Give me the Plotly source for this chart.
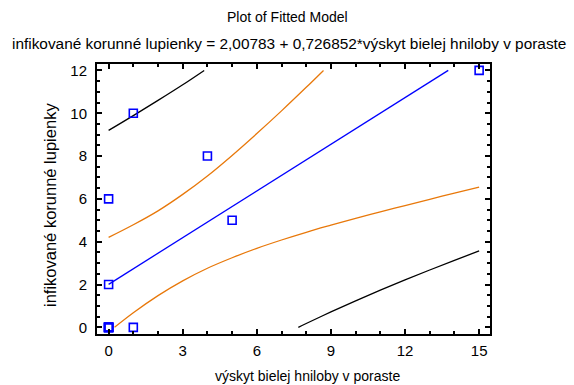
import plotly.graph_objects as go

# observed data points
obs_x = [0, 0, 0, 0, 0, 0, 0, 1, 1, 4, 5, 15]
obs_y = [0, 0, 0, 0, 0, 2, 6, 10, 0, 8, 5, 12]

# fitted line
fit_x = [0, 13.75]
fit_y = [2.01, 12.0]

# confidence limits (orange)
ci_up_x = [0, 1, 2, 3, 4, 5, 6, 7, 8, 8.7]
ci_up_y = [4.20, 4.79, 5.44, 6.21, 7.07, 8.03, 9.05, 10.11, 11.21, 12.0]
ci_lo_x = [0.24, 1, 2, 3, 4, 5, 6, 7, 8, 9, 10, 11, 12, 13, 14, 15]
ci_lo_y = [0.0, 0.68, 1.48, 2.17, 2.76, 3.25, 3.69, 4.08, 4.44, 4.77, 5.09, 5.39, 5.69, 5.98, 6.27, 6.55]

# prediction limits (black)
pi_up_x = [0, 1, 2, 3, 3.87]
pi_up_y = [9.20, 9.89, 10.60, 11.33, 12.0]
pi_lo_x = [7.68, 8, 9, 10, 11, 12, 13, 14, 15]
pi_lo_y = [0.0, 0.18, 0.72, 1.24, 1.74, 2.22, 2.68, 3.13, 3.57]

x_ticks = [0, 3, 6, 9, 12, 15]
y_ticks = [0, 2, 4, 6, 8, 10, 12]

FONT = "Liberation Sans, Arial, sans-serif"
ORANGE = "#E8780A"

W, H = 574, 385
ML, MR, MT, MB = 97, 84, 64, 51
PW, PH = W - ML - MR, H - MT - MB


def px_to_paper(xpx, ypx):
    return (xpx - ML) / PW, (H - MB - ypx) / PH


fig = go.Figure()
fig.add_trace(go.Scatter(x=pi_up_x, y=pi_up_y, mode="lines", line=dict(color="black", width=1.3, shape="spline"), hoverinfo="skip"))
fig.add_trace(go.Scatter(x=pi_lo_x, y=pi_lo_y, mode="lines", line=dict(color="black", width=1.3, shape="spline"), hoverinfo="skip"))
fig.add_trace(go.Scatter(x=ci_up_x, y=ci_up_y, mode="lines", line=dict(color=ORANGE, width=1.3, shape="spline"), hoverinfo="skip"))
fig.add_trace(go.Scatter(x=ci_lo_x, y=ci_lo_y, mode="lines", line=dict(color=ORANGE, width=1.3, shape="spline"), hoverinfo="skip"))
fig.add_trace(go.Scatter(x=fit_x, y=fit_y, mode="lines", line=dict(color="#0000FF", width=1.3), hoverinfo="skip"))
fig.add_trace(go.Scatter(x=obs_x, y=obs_y, mode="markers",
                         marker=dict(symbol="square-open", size=8, color="#0000FF", line=dict(width=1.6, color="#0000FF"))))

tx, ty = px_to_paper(287, 17)
sx, sy = px_to_paper(289, 43)
yx, yy = px_to_paper(50, 205)
xx, xy = px_to_paper(307, 376)

fig.update_layout(
    width=W, height=H,
    margin=dict(l=ML, r=MR, t=MT, b=MB),
    paper_bgcolor="white", plot_bgcolor="white",
    showlegend=False,
    font=dict(family=FONT, color="black", size=14),
    annotations=[
        dict(text="Plot of Fitted Model", x=tx, y=ty, xref="paper", yref="paper",
             showarrow=False, font=dict(size=14, family=FONT), xanchor="center", yanchor="middle"),
        dict(text="infikované korunné lupienky = 2,00783 + 0,726852*výskyt bielej hniloby v poraste",
             x=sx, y=sy, xref="paper", yref="paper", showarrow=False,
             font=dict(size=15.4, family=FONT), xanchor="center", yanchor="middle"),
        dict(text="výskyt bielej hniloby v poraste", x=xx, y=xy, xref="paper", yref="paper",
             showarrow=False, font=dict(size=14, family=FONT), xanchor="center", yanchor="middle"),
        dict(text="infikované korunné lupienky", x=yx, y=yy, xref="paper", yref="paper",
             showarrow=False, textangle=-90, font=dict(size=16.5, family=FONT),
             xanchor="center", yanchor="middle"),
    ],
)

fig.update_xaxes(
    range=[-0.47, 15.44], tickmode="array", tickvals=x_ticks, ticktext=[str(v) for v in x_ticks],
    ticks="inside", ticklen=5, tickwidth=1.5, tickcolor="black",
    minor=dict(dtick=1, tick0=0, ticks="inside", ticklen=3, tickwidth=1.5, tickcolor="black"),
    showline=True, linecolor="black", linewidth=2, mirror="allticks",
    showgrid=False, zeroline=False, tickfont=dict(size=15), automargin=False,
    ticklabelstandoff=2,
)
fig.update_yaxes(
    range=[-0.31, 12.30], tickmode="array", tickvals=y_ticks, ticktext=[str(v) for v in y_ticks],
    ticks="inside", ticklen=5, tickwidth=1.5, tickcolor="black",
    minor=dict(dtick=0.5, tick0=0, ticks="inside", ticklen=3, tickwidth=1.5, tickcolor="black"),
    showline=True, linecolor="black", linewidth=2, mirror="allticks",
    showgrid=False, zeroline=False, tickfont=dict(size=15), automargin=False,
    ticklabelstandoff=5,
)

fig.write_html("out.html", config={"displayModeBar": False},
               post_script="document.body.style.margin='0';document.body.style.padding='0';")
